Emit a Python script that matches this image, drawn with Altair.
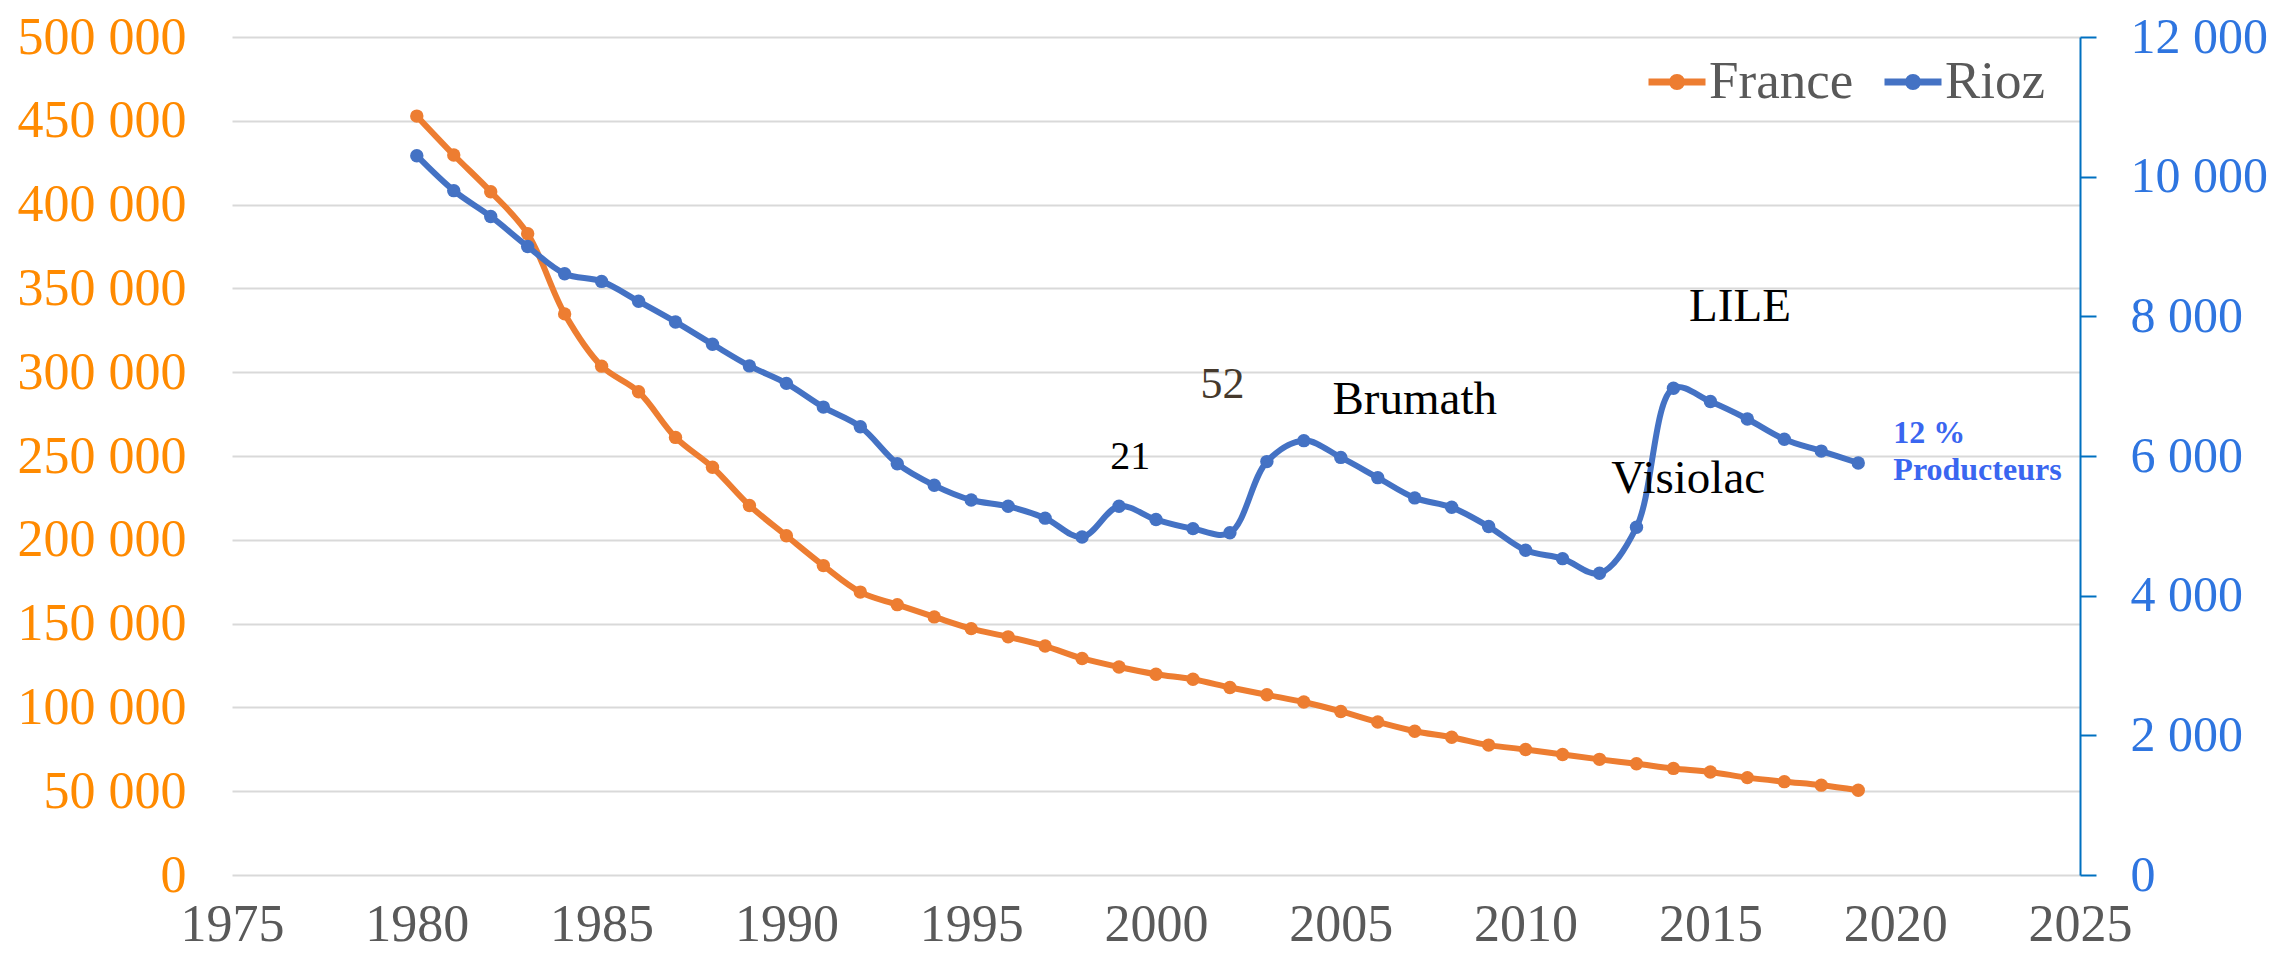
import altair as alt
import pandas as pd

# ---------------- data ----------------
years = list(range(1980, 2020))
france = [452800, 429600, 407700, 382600, 334800, 303600, 288300, 261100, 243300, 220500,
          202400, 184600, 168800, 161300, 154000, 147000, 142100, 136600, 129200, 124100,
          119800, 116800, 111900, 107500, 103200, 97600, 91300, 85800, 82200, 77500,
          74900, 71900, 69000, 66400, 63600, 61500, 58100, 55700, 53600, 50600]
rioz = [10300, 9800, 9430, 9000, 8610, 8500, 8215, 7920, 7600, 7290,
        7040, 6700, 6420, 5890, 5580, 5370, 5280, 5110, 4840, 5280,
        5090, 4960, 4900, 5920, 6220, 5980, 5690, 5400, 5265, 4990,
        4650, 4530, 4320, 4980, 6970, 6780, 6530, 6240, 6070, 5900]

series_names = ["France", "Rioz"]
series_colors = ["#ED7D31", "#4472C4"]

ann_text = ["21", "Brumath", "LILE", "Visiolac"]
ann_year = [1999.3, 2007.0, 2015.8, 2014.4]
ann_value = [5980, 6800, 8140, 5670]
ann_size = [40, 47, 47, 47]

ann2_text = ["52"]
ann2_year = [2001.8]
ann2_value = [7020]

note_text = ["12 %", "Producteurs"]
note_year = [2019.95, 2019.95]
note_value = [6335, 5795]

x_ticks = list(range(1975, 2026, 5))
left_ticks = list(range(0, 500001, 50000))
right_ticks = list(range(0, 12001, 2000))

# ---------------- frames ----------------
df_f = pd.DataFrame({"year": years, "value": france, "series": "France"})
df_r = pd.DataFrame({"year": years, "value": rioz, "series": "Rioz"})
df_ann = pd.DataFrame({"year": ann_year, "value": ann_value, "label": ann_text, "fs": ann_size})
df_ann2 = pd.DataFrame({"year": ann2_year, "value": ann2_value, "label": ann2_text})
df_note = pd.DataFrame({"year": note_year, "value": note_value, "label": note_text})

FONT = "Liberation Serif"
space_fmt = "replace(format(datum.value, ','), ',', ' ')"

x_axis = alt.Axis(values=x_ticks, format="d", labelColor="#595959", labelFont=FONT,
                  labelFontSize=52, ticks=False, domain=False, grid=False,
                  labelPadding=24, labelFlush=False, labelOverlap=False, title=None)
x_scale = alt.Scale(domain=[1975, 2025], nice=False, zero=False)
x_enc = alt.X("year:Q", scale=x_scale, axis=x_axis)

legend_path = "M-1,0L1,0M-0.16,0A0.16,0.16,0,1,0,0.16,0A0.16,0.16,0,1,0,-0.16,0Z"
color_enc = alt.Color("series:N",
                      scale=alt.Scale(domain=series_names, range=series_colors),
                      legend=alt.Legend(orient="none", legendX=1413, legendY=13,
                                        direction="horizontal", title=None,
                                        labelFont=FONT, labelFontSize=53, labelColor="#595959",
                                        symbolType=legend_path, symbolSize=3249,
                                        symbolStrokeWidth=7, labelOffset=0, columnPadding=16))

yl_scale = alt.Scale(domain=[0, 500000], nice=False)
yr_scale = alt.Scale(domain=[0, 12000], nice=False)

left_axis = alt.Axis(orient="left", values=left_ticks, labelExpr=space_fmt,
                     labelColor="#FF8A00", labelFont=FONT, labelFontSize=52, labelPadding=46,
                     ticks=False, domain=False, grid=True, gridColor="#D9D9D9", gridWidth=2,
                     title=None)
right_axis = alt.Axis(orient="right", values=right_ticks, labelExpr=space_fmt,
                      labelColor="#2E75E0", labelFont=FONT, labelFontSize=50, labelPadding=34,
                      domainColor="#0070C0", domainWidth=2, tickColor="#0070C0", tickWidth=2,
                      tickSize=16, grid=False, title=None)

yl_enc = alt.Y("value:Q", scale=yl_scale, axis=left_axis)
yr_enc = alt.Y("value:Q", scale=yr_scale, axis=right_axis)

france_line = alt.Chart(df_f).mark_line(interpolate="catmull-rom", strokeWidth=6).encode(
    x=x_enc, y=yl_enc, color=color_enc)
france_pts = alt.Chart(df_f).mark_point(filled=True, size=180, opacity=1).encode(
    x=x_enc, y=yl_enc, color=color_enc)
france_layer = alt.layer(france_line, france_pts)

rioz_line = alt.Chart(df_r).mark_line(interpolate="catmull-rom", strokeWidth=6).encode(
    x=x_enc, y=yr_enc, color=color_enc)
rioz_pts = alt.Chart(df_r).mark_point(filled=True, size=180, opacity=1).encode(
    x=x_enc, y=yr_enc, color=color_enc)

ann = alt.Chart(df_ann).mark_text(font=FONT, color="#000000", align="center", baseline="middle").encode(
    x=x_enc, y=yr_enc, text="label:N",
    size=alt.Size("fs:Q", scale=None, legend=None))
ann2 = alt.Chart(df_ann2).mark_text(font=FONT, color="#45392C", fontSize=44, align="center",
                                    baseline="middle").encode(
    x=x_enc, y=yr_enc, text="label:N")
note = alt.Chart(df_note).mark_text(font=FONT, color="#3A66F0", fontSize=32, fontWeight="bold",
                                    align="left", baseline="middle").encode(
    x=x_enc, y=yr_enc, text="label:N")

rioz_layer = alt.layer(rioz_line, rioz_pts, ann, ann2, note)

chart = alt.layer(france_layer, rioz_layer).resolve_scale(y="independent").properties(
    width=1848, height=838,
    padding={"left": 224, "top": 29, "right": 190, "bottom": 76},
    autosize=alt.AutoSizeParams(type="none"),
    background="white",
).configure_view(stroke=None)

chart.save("out.html", embed_options={"renderer": "svg", "actions": False})
